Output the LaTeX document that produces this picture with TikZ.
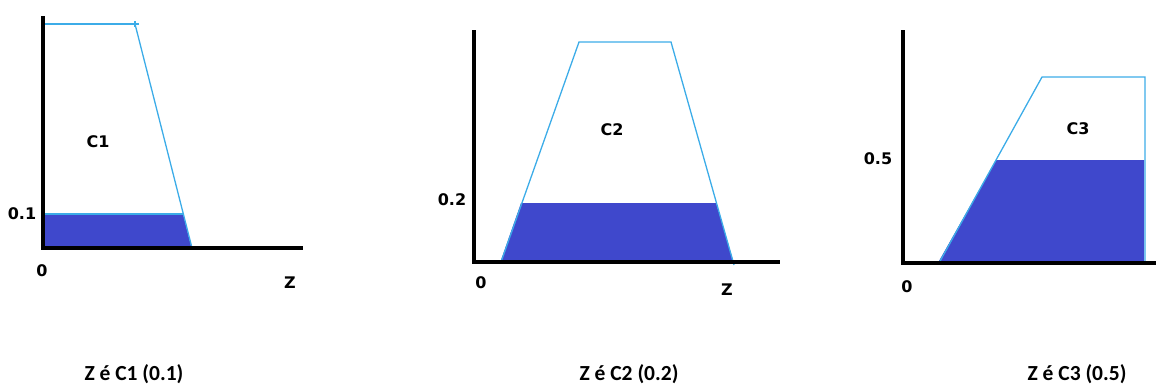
\documentclass[tikz,border=0pt]{standalone}
\usepackage{fontspec}
\setmainfont{DejaVu Sans}
\newfontfamily\capfont{Carlito}
\usepackage{xcolor}
\usetikzlibrary{positioning}

\definecolor{memb}{HTML}{3CACE8}
\definecolor{cut}{HTML}{3F48CC}

\begin{document}
\begin{tikzpicture}[
    x=1pt, y=-1pt,
    axis/.style={draw=black, line width=3.6pt, line join=miter},
    memline/.style={draw=memb, line width=1.3pt},
    cutfill/.style={fill=cut},
    lbl/.style={font=\fontsize{16}{19}\selectfont\bfseries, inner sep=0pt},
    caption/.style={font=\capfont\fontsize{21.5}{25}\selectfont\bfseries, inner sep=0pt}
]
\useasboundingbox (0,0) rectangle (1156,386);

% Panel C1
\coordinate (o1) at (43,248);
\fill[cutfill] (45,214) -- (183,214) -- (191,246) -- (45,246) -- cycle;
\draw[memline] (45,24) -- (139,24);
\draw[memline] (135,24) -- (192,248);
\draw[memline] (45,214) -- (183,214);
\draw[memline] (135,21) -- (135,27);
\draw[axis] (43,16) -- (o1) -- (303,248);
\node[lbl] (c1) at (98,142) {C1};
\node[lbl] (v1) at (22,214) {0.1};
\node[lbl] (z01) at (42,271) {0};
\node[lbl] (zz1) at (290,283) {Z};
\node[caption] (cap1) at (134,374) {Z é C1 (0.1)};

% Panel C2
\coordinate (o2) at (474,262);
\fill[cutfill] (501,260) -- (521,203) -- (716,203) -- (733,260) -- cycle;
\draw[memline] (501,262) -- (579,42) -- (671,42) -- (734,265);
\draw[axis] (474,30) -- (o2) -- (780,262);
\node[lbl] (c2) at (612,130) {C2};
\node[lbl] (v2) at (452,200) {0.2};
\node[lbl] (z02) at (481,283) {0};
\node[lbl] (zz2) at (727,290) {Z};
\node[caption] (cap2) at (629,374) {Z é C2 (0.2)};

% Panel C3
\coordinate (o3) at (903,263);
\fill[cutfill] (939,261) -- (996,160) -- (1144,160) -- (1144,261) -- cycle;
\draw[memline] (939,263) -- (1042,77) -- (1145,77) -- (1145,263);
\draw[axis] (903,30) -- (o3) -- (1160,263);
\node[lbl] (c3) at (1078,129) {C3};
\node[lbl] (v3) at (878,159) {0.5};
\node[lbl] (z03) at (907,287) {0};
\node[lbl] (zz3) at (1163,289) {Z};
\node[caption] (cap3) at (1077,374) {Z é C3 (0.5)};

\end{tikzpicture}
\end{document}
